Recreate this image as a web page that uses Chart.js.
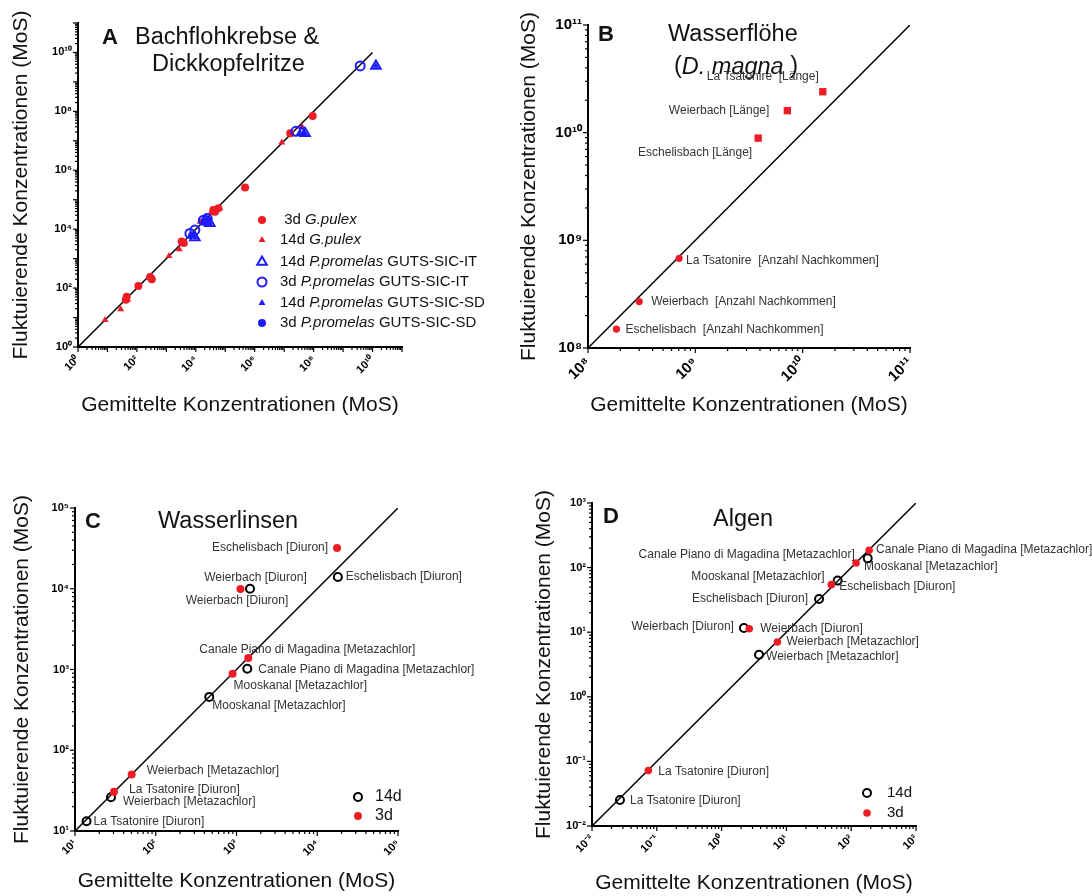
<!DOCTYPE html>
<html>
<head>
<meta charset="utf-8">
<script src="https://cdn.jsdelivr.net/npm/chart.js@4.4.1/dist/chart.umd.min.js"></script>
<style>
  body { margin: 0; background: #fff; width: 1092px; height: 896px; position: relative; overflow: hidden; }
  canvas { position: absolute; }
</style>
</head>
<body>
<canvas id="chartA" width="540" height="440" style="left:0;top:0"></canvas>
<canvas id="chartB" width="582" height="440" style="left:510px;top:0"></canvas>
<canvas id="chartC" width="540" height="456" style="left:0;top:440px"></canvas>
<canvas id="chartD" width="567" height="456" style="left:525px;top:440px"></canvas>
<script>
const FONT = "'Liberation Sans', Arial, Helvetica, sans-serif";
const RED = "#ee1c25";
const BLUE = "#1c1cff";

const xTitle = "Gemittelte Konzentrationen (MoS)";
const yTitle = "Fluktuierende Konzentrationen (MoS)";

// labelled decades per panel
const aTickExp = [0, 2, 4, 6, 8, 10];
const bTickExp = [8, 9, 10, 11];
const cTickExp = [1, 2, 3, 4, 5];
const dTickExp = [-2, -1, 0, 1, 2, 3];

// ---- A: [gemittelt, fluktuierend]
const aGpulex3d = [[9.3e7, 6.9e7], [4.7e5, 2.6e5], [1.6e7, 1.8e7], [3.9e4, 4.5e4], [5.8e4, 5.1e4],
  [4.5e4, 3.9e4], [3.3e3, 3.8e3], [3.9e3, 3.4e3], [320, 200], [280, 240], [112, 118], [45, 51], [42, 40]];
const aGpulex14d = [[8.3, 8.3], [28, 19], [49, 40], [1230, 1230], [2750, 2100], [4100, 3300],
  [1.4e4, 1.8e4], [6.6e4, 5.1e4], [3.2e4, 3.5e4], [8.3e6, 8.7e6], [1.6e7, 1.6e7], [4e7, 3e7]];
const aPpIT14d = [[1.3e10, 3.5e9], [4e7, 1.95e7], [5.1e7, 1.8e7], [9300, 5200], [3e4, 1.6e4], [2.2e4, 2.0e4]];
const aPpIT3d = [[3.8e9, 3.5e9], [2.5e7, 2.1e7], [6300, 7200], [9300, 9300], [1.8e4, 2.0e4], [2.45e4, 2.3e4]];
const aPpSD14d = [[1.3e10, 3.5e9], [4.8e7, 1.85e7], [9600, 5300], [2.9e4, 1.6e4]];
const aPpSD3d = [[7000, 6500], [1.9e4, 2.0e4]];

// ---- B
const bLaengeNames = ["La Tsatonire  [Länge]", "Weierbach [Länge]", "Eschelisbach [Länge]"];
const bLaengeX = [1.54e10, 7.2e9, 3.85e9];
const bLaengeY = [2.4e10, 1.6e10, 8.9e9];
const bNachkNames = ["La Tsatonire  [Anzahl Nachkommen]", "Weierbach  [Anzahl Nachkommen]", "Eschelisbach  [Anzahl Nachkommen]"];
const bNachkX = [7.06e8, 3.0e8, 1.84e8];
const bNachkY = [6.8e8, 2.7e8, 1.5e8];

// ---- C
const cNames = ["Eschelisbach [Diuron]", "Weierbach [Diuron]", "Canale Piano di Magadina [Metazachlor]",
  "Mooskanal [Metazachlor]", "Weierbach [Metazachlor]", "La Tsatonire [Diuron]"];
const c3dX = [1.76e4, 1120, 1400, 895, 50.3, 30.4];
const c3dY = [3.2e4, 9900, 1390, 883, 50, 30.6];
const c14dX = [1.8e4, 1470, 1360, 460, 27.9, 13.9];
const c14dY = [1.4e4, 1.0e4, 1020, 458, 26.2, 13.2];

// ---- D
const dNames = ["Canale Piano di Magadina [Metazachlor]", "Mooskanal [Metazachlor]", "Eschelisbach [Diuron]",
  "Weierbach [Diuron]", "Weierbach [Metazachlor]", "La Tsatonire [Diuron]"];
const d3dX = [189, 119, 49.4, 2.67, 7.26, 0.074];
const d3dY = [185, 118, 54.5, 11.3, 7.05, 0.072];
const d14dX = [180, 61.8, 31.9, 2.21, 3.78, 0.027];
const d14dY = [139, 62.9, 32.7, 11.6, 4.48, 0.0253];

// label offsets from their point: [dx, dy, align]
const bLaengePos = [[-4, -15, "right"], [-18, 0, "right"], [-6, 15, "right"]];
const bNachkPos = [[7, 2, "left"], [12, 0, "left"], [9, 1, "left"]];
const c3dPos = [[-9, 0, "right"], [15, -11, "center"], [-49, -8, "left"], [1, 12, "left"], [15, -4, "left"], [15, -2, "left"]];
const c14dPos = [[8, 0, "left"], [-13, 12, "center"], [11, 1, "left"], [3, 9, "left"], [12, 4, "left"], [7, 0, "left"]];
const d3dPos = [[7, -1, "left"], [8, 4, "left"], [8, 2, "left"], [11, 0, "left"], [9, 0, "left"], [10, 1, "left"]];
const d14dPos = [[-13, -4, "right"], [-13, -4, "right"], [-11, 0, "right"], [-10, -1, "right"], [7, 2, "left"], [10, 1, "left"]];

const SUP = { "-": "⁻", "0": "⁰", "1": "¹", "2": "²", "3": "³", "4": "⁴", "5": "⁵", "6": "⁶", "7": "⁷", "8": "⁸", "9": "⁹" };
const expLabel = (v) => "10" + String(Math.round(Math.log10(v))).split("").map((c) => SUP[c]).join("");

const pairs = (arr) => arr.map(([x, y]) => ({ x, y }));
const zipPts = (xs, ys) => xs.map((x, i) => ({ x, y: ys[i] }));

function logAxis(pos, min, max, exps, size, tickSize, titlePad) {
  const horiz = pos === "bottom";
  return {
    type: "logarithmic",
    position: pos,
    min, max,
    border: { display: true, color: "#000", width: 2 },
    grid: { display: false, drawTicks: true, tickLength: 5 },
    afterBuildTicks: (s) => { s.ticks = exps.map((e) => ({ value: Math.pow(10, e) })); },
    afterFit: (s) => {
      if (horiz) { s.height = size; s.paddingLeft = 0; s.paddingRight = 0; }
      else { s.width = size; s.paddingTop = 0; s.paddingBottom = 0; }
    },
    ticks: {
      autoSkip: false,
      color: "#000",
      padding: 1,
      minRotation: horiz ? 45 : 0,
      maxRotation: horiz ? 45 : 0,
      font: { family: FONT, size: tickSize, weight: "bold" },
      callback: (v) => expLabel(v),
    },
    title: {
      display: true,
      text: horiz ? xTitle : yTitle,
      color: "#111",
      font: { family: FONT, size: 21 },
      padding: horiz ? { top: 0, bottom: titlePad } : { top: titlePad, bottom: 0 },
    },
  };
}

// minor / major tick marks drawn along the library's scales
const logTicks = {
  id: "logTicks",
  afterDraw(chart) {
    const ctx = chart.ctx;
    ctx.save();
    ctx.strokeStyle = "#000";
    ctx.lineWidth = 1.2;
    [chart.scales.x, chart.scales.y].forEach((s) => {
      const e0 = Math.round(Math.log10(s.min));
      const e1 = Math.round(Math.log10(s.max));
      for (let e = e0; e <= e1; e++) {
        for (let m = 1; m <= 9; m++) {
          const v = m * Math.pow(10, e);
          if (v > s.max * 1.0001) break;
          const len = m === 1 ? 5 : 3;
          const p = s.getPixelForValue(v);
          ctx.beginPath();
          if (s.isHorizontal()) { ctx.moveTo(p, s.top); ctx.lineTo(p, s.top + len); }
          else { ctx.moveTo(s.right, p); ctx.lineTo(s.right - len, p); }
          ctx.stroke();
        }
      }
    });
    ctx.restore();
  },
};

function runs(ctx, parts, x, y, align) {
  let w = 0;
  parts.forEach(([t, f]) => { ctx.font = f; w += ctx.measureText(t).width; });
  let cx = align === "center" ? x - w / 2 : x;
  ctx.textAlign = "left";
  ctx.textBaseline = "middle";
  parts.forEach(([t, f]) => { ctx.font = f; ctx.fillText(t, cx, y); cx += ctx.measureText(t).width; });
}

function notes(chart, xs, ys, names, pos) {
  const { ctx, scales: { x, y } } = chart;
  ctx.save();
  ctx.font = "12px " + FONT;
  ctx.fillStyle = "#333";
  ctx.textBaseline = "middle";
  names.forEach((n, i) => {
    const [dx, dy, al] = pos[i];
    ctx.textAlign = al;
    ctx.fillText(n, x.getPixelForValue(xs[i]) + dx, y.getPixelForValue(ys[i]) + dy);
  });
  ctx.restore();
}

function marker(ctx, style, r, fill, stroke, bw, x, y) {
  ctx.fillStyle = fill;
  ctx.strokeStyle = stroke;
  ctx.lineWidth = bw;
  Chart.helpers.drawPoint(ctx, { pointStyle: style, radius: r, rotation: 0, borderWidth: bw }, x, y);
}

const T = (s) => s + "px " + FONT;
const TB = (s) => "bold " + s + "px " + FONT;
const TI = (s) => "italic " + s + "px " + FONT;

function diag(lo, hi) {
  return { data: [{ x: lo, y: lo }, { x: hi, y: hi }], showLine: true, borderColor: "#000", borderWidth: 1.5, pointRadius: 0, order: 10 };
}

function makeChart(id, datasets, scales, padding, deco) {
  return new Chart(document.getElementById(id), {
    type: "scatter",
    data: { datasets },
    options: {
      responsive: false,
      animation: false,
      events: [],
      layout: { padding },
      plugins: { legend: { display: false }, tooltip: { enabled: false } },
      scales,
    },
    plugins: [logTicks, { id: "deco", afterDraw: deco }],
  });
}

// ---------- A
makeChart("chartA", [
  { data: pairs(aPpSD3d), pointStyle: "circle", pointRadius: 3, backgroundColor: BLUE, borderWidth: 0 },
  { data: pairs(aPpSD14d), pointStyle: "triangle", pointRadius: 3.5, backgroundColor: BLUE, borderWidth: 0 },
  { data: pairs(aPpIT3d), pointStyle: "circle", pointRadius: 4.5, backgroundColor: "rgba(0,0,0,0)", borderColor: BLUE, borderWidth: 2 },
  { data: pairs(aPpIT14d), pointStyle: "triangle", pointRadius: 5.5, backgroundColor: "rgba(0,0,0,0)", borderColor: BLUE, borderWidth: 2 },
  { data: pairs(aGpulex14d), pointStyle: "triangle", pointRadius: 4, backgroundColor: RED, borderWidth: 0 },
  { data: pairs(aGpulex3d), pointStyle: "circle", pointRadius: 4, backgroundColor: RED, borderWidth: 0 },
  diag(1, 1e10),
], {
  x: logAxis("bottom", 1, 1e11, aTickExp, 93, 11, 22),
  y: logAxis("left", 1, 1e11, aTickExp, 78, 11, 9),
}, { left: 0, top: 23, right: 138, bottom: 0 }, (chart) => {
  const ctx = chart.ctx;
  ctx.save();
  ctx.fillStyle = "#111";
  runs(ctx, [["A", TB(22)]], 102, 38, "left");
  runs(ctx, [["Bachflohkrebse &", T(23.5)]], 135, 38, "left");
  runs(ctx, [["Dickkopfelritze", T(23.5)]], 152, 65, "left");
  const rows = [
    [[" 3d ", T(15)], ["G.pulex", TI(15)]],
    [["14d ", T(15)], ["G.pulex", TI(15)]],
    [["14d ", T(15)], ["P.promelas", TI(15)], [" GUTS-SIC-IT", T(15)]],
    [["3d ", T(15)], ["P.promelas", TI(15)], [" GUTS-SIC-IT", T(15)]],
    [["14d ", T(15)], ["P.promelas", TI(15)], [" GUTS-SIC-SD", T(15)]],
    [["3d ", T(15)], ["P.promelas", TI(15)], [" GUTS-SIC-SD", T(15)]],
  ];
  const marks = [
    ["circle", 4, RED, RED, 0], ["triangle", 4, RED, RED, 0],
    ["triangle", 5.5, "rgba(0,0,0,0)", BLUE, 2], ["circle", 4.5, "rgba(0,0,0,0)", BLUE, 2],
    ["triangle", 4, BLUE, BLUE, 0], ["circle", 4, BLUE, BLUE, 0],
  ];
  const ys = [220, 240, 262, 282, 303, 323];
  rows.forEach((r, i) => {
    const [st, rr, f, s, bw] = marks[i];
    marker(ctx, st, rr, f, s, bw, 262, ys[i]);
    ctx.fillStyle = "#111";
    runs(ctx, r, 280, ys[i], "left");
  });
  ctx.restore();
});

// ---------- B
makeChart("chartB", [
  { data: zipPts(bLaengeX, bLaengeY), pointStyle: "rect", pointRadius: 5.2, backgroundColor: RED, borderWidth: 0 },
  { data: zipPts(bNachkX, bNachkY), pointStyle: "circle", pointRadius: 3.6, backgroundColor: RED, borderWidth: 0 },
  diag(1e8, 1e11),
], {
  x: logAxis("bottom", 1e8, 1e11, bTickExp, 92, 15, 22),
  y: logAxis("left", 1e8, 1e11, bTickExp, 78, 15, 7),
}, { left: 0, top: 25, right: 182, bottom: 0 }, (chart) => {
  const ctx = chart.ctx;
  ctx.save();
  ctx.fillStyle = "#111";
  runs(ctx, [["B", TB(22)]], 88, 35, "left");
  runs(ctx, [["Wasserflöhe", T(23.5)]], 158, 35, "left");
  runs(ctx, [["(", T(23.5)], ["D. magna", TI(23.5)], [" )", T(23.5)]], 226, 67, "center");
  ctx.restore();
  notes(chart, bLaengeX, bLaengeY, bLaengeNames, bLaengePos);
  notes(chart, bNachkX, bNachkY, bNachkNames, bNachkPos);
});

// ---------- C
makeChart("chartC", [
  { data: zipPts(c3dX, c3dY), pointStyle: "circle", pointRadius: 4, backgroundColor: RED, borderWidth: 0 },
  { data: zipPts(c14dX, c14dY), pointStyle: "circle", pointRadius: 4, backgroundColor: "rgba(0,0,0,0)", borderColor: "#000", borderWidth: 2 },
  diag(10, 1e5),
], {
  x: logAxis("bottom", 10, 1e5, cTickExp, 65, 11, 2),
  y: logAxis("left", 10, 1e5, cTickExp, 75, 11, 10),
}, { left: 0, top: 68, right: 142, bottom: 0 }, (chart) => {
  const ctx = chart.ctx;
  ctx.save();
  ctx.fillStyle = "#111";
  runs(ctx, [["C", TB(22)]], 85, 82, "left");
  runs(ctx, [["Wasserlinsen", T(23.5)]], 158, 82, "left");
  marker(ctx, "circle", 4, "rgba(0,0,0,0)", "#000", 2, 358, 357);
  marker(ctx, "circle", 4, RED, RED, 0, 358, 376);
  ctx.fillStyle = "#111";
  runs(ctx, [["14d", T(16)]], 375, 357, "left");
  runs(ctx, [["3d", T(16)]], 375, 376, "left");
  ctx.restore();
  notes(chart, c3dX, c3dY, cNames, c3dPos);
  notes(chart, c14dX, c14dY, cNames, c14dPos);
});

// ---------- D
makeChart("chartD", [
  { data: zipPts(d3dX, d3dY), pointStyle: "circle", pointRadius: 3.8, backgroundColor: RED, borderWidth: 0 },
  { data: zipPts(d14dX, d14dY), pointStyle: "circle", pointRadius: 4, backgroundColor: "rgba(0,0,0,0)", borderColor: "#000", borderWidth: 2 },
  diag(0.01, 1000),
], {
  x: logAxis("bottom", 0.01, 1000, dTickExp, 70, 11, 0),
  y: logAxis("left", 0.01, 1000, dTickExp, 67, 11, 7),
}, { left: 0, top: 63, right: 176, bottom: 0 }, (chart) => {
  const ctx = chart.ctx;
  ctx.save();
  ctx.fillStyle = "#111";
  runs(ctx, [["D", TB(22)]], 78, 77, "left");
  runs(ctx, [["Algen", T(23.5)]], 188, 80, "left");
  marker(ctx, "circle", 4, "rgba(0,0,0,0)", "#000", 2, 342, 353);
  marker(ctx, "circle", 3.8, RED, RED, 0, 342, 373);
  ctx.fillStyle = "#111";
  runs(ctx, [["14d", T(15)]], 362, 353, "left");
  runs(ctx, [["3d", T(15)]], 362, 373, "left");
  ctx.restore();
  notes(chart, d3dX, d3dY, dNames, d3dPos);
  notes(chart, d14dX, d14dY, dNames, d14dPos);
});
</script>
</body>
</html>
